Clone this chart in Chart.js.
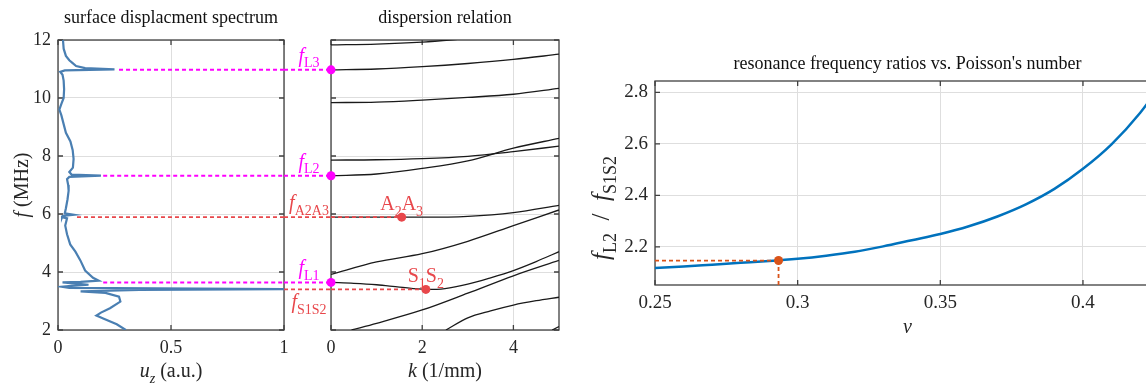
<!DOCTYPE html>
<html>
<head>
<meta charset="utf-8">
<title>spectrum, dispersion and frequency ratio</title>
<script src="https://cdn.jsdelivr.net/npm/chart.js@4.4.1/dist/chart.umd.min.js"></script>
<style>
  html, body { margin: 0; padding: 0; background: #fff; overflow: hidden; }
  body { width: 1146px; height: 383px; position: relative; }
  canvas { position: absolute; top: 0; }
</style>
</head>
<body>
<canvas id="spec" width="300" height="383" style="left:0"></canvas>
<canvas id="disp" width="290" height="383" style="left:284px"></canvas>
<canvas id="ratio" width="600" height="383" style="left:580px"></canvas>
<script>
// surface displacement spectrum (left panel)
const specF = [12.0, 11.7, 11.45, 11.3, 11.2, 11.1, 11.03, 10.99, 10.95, 10.9, 10.8, 10.6, 10.3, 10.0, 9.8, 9.6,
  9.4, 9.1, 8.8, 8.5, 8.2, 7.9, 7.6, 7.45, 7.36, 7.32, 7.28, 7.2, 7.0, 6.8, 6.5, 6.2, 6.02, 5.97, 5.93, 5.89,
  5.85, 5.6, 5.3, 4.95, 4.7, 4.4, 4.05, 3.8, 3.7, 3.66, 3.64, 3.6, 3.56, 3.52, 3.49, 3.45, 3.41, 3.38, 3.33,
  3.28, 3.15, 2.98, 2.75, 2.6, 2.5, 2.4, 2.2, 2.0];
const specU = [0.022, 0.025, 0.035, 0.05, 0.065, 0.08, 0.12, 0.25, 0.03, 0.01, 0.02, 0.025, 0.027, 0.025, 0.015, 0.006,
  0.015, 0.025, 0.035, 0.055, 0.065, 0.069, 0.066, 0.05, 0.06, 0.19, 0.05, 0.04, 0.045, 0.047, 0.042, 0.035, 0.03, 0.07, 0.02, 0.018,
  0.04, 0.032, 0.04, 0.054, 0.077, 0.099, 0.12, 0.155, 0.18, 0.1, 0.02, 0.08, 0.135, 0.06, 0.02, 0.05, 1.0, 0.36, 0.1,
  0.21, 0.27, 0.276, 0.23, 0.19, 0.17, 0.2, 0.26, 0.3];

// dispersion branches (middle panel), f in MHz against k in 1/mm
const kGrid = [0, 1, 2, 3, 4, 5];
const branchAk = [0, 1, 2, 3];
const branchAf = [11.83, 11.86, 11.93, 12.05];
const branchBf = [10.97, 11.0, 11.08, 11.19, 11.33, 11.51];
const branchCf = [9.84, 9.86, 9.93, 10.02, 10.13, 10.33];
const branchDf = [7.86, 7.87, 7.91, 7.99, 8.15, 8.34];
const branchEf = [7.32, 7.38, 7.57, 7.83, 8.27, 8.61];
const branchFf = [5.89, 5.89, 5.89, 5.92, 6.05, 6.30];
const branchGf = [3.92, 4.35, 4.63, 5.06, 5.6, 6.14];
const branchHk = [0, 0.5, 1, 1.5, 2.08, 2.5, 3, 3.5, 4, 4.5, 5];
const branchHf = [3.64, 3.61, 3.56, 3.48, 3.40, 3.43, 3.58, 3.8, 4.05, 4.36, 4.70];
const branchIk = [0.45, 1, 2, 3, 4, 5];
const branchIf = [2.0, 2.23, 2.69, 3.27, 3.87, 4.40];
const branchJk = [2.52, 3, 3.5, 4, 4.5, 5];
const branchJf = [2.0, 2.42, 2.66, 2.86, 3.01, 3.13];
const branchKk = [4.85, 5];
const branchKf = [2.0, 2.12];

// resonances picked from the spectrum
const resNames = ['L1', 'L2', 'L3'];
const resF = [3.64, 7.32, 10.97];
const resU = [0.2, 0.2, 0.27];
const crossNames = ['A2A3', 'S1S2'];
const crossF = [5.89, 3.40];
const crossK = [1.55, 2.08];
const crossU = [0.084, 1.0];

// frequency ratio against Poisson's number (right panel)
const nu = [0.25, 0.26, 0.27, 0.28, 0.29, 0.30, 0.31, 0.32, 0.33, 0.34, 0.35, 0.36, 0.37, 0.38, 0.39, 0.40, 0.41, 0.42, 0.43];
const ratio = [2.118, 2.124, 2.131, 2.138, 2.145, 2.154, 2.166, 2.181, 2.202, 2.226, 2.250, 2.280, 2.318, 2.365, 2.425, 2.503, 2.598, 2.720, 2.870];
const nuFound = 0.2933;
const ratioFound = 2.147;

// axis ranges and ticks
const fRange = [2, 12], fTicks = [2, 4, 6, 8, 10, 12];
const uRange = [0, 1], uTicks = [0, 0.5, 1];
const kRange = [0, 5], kTicks = [0, 2, 4];
const nuRange = [0.25, 0.427], nuTicks = [0.25, 0.3, 0.35, 0.4];
const ratioRange = [2.052, 2.844], ratioTicks = [2.2, 2.4, 2.6, 2.8];

const SERIF = '"Liberation Serif", "Times New Roman", serif';
const INK = '#262626';
const GRID = '#dedede';
const MAGENTA = '#ff00ff';
const RED = '#e8474b';
const ORANGE = '#d95319';
const BLUE = '#0072bd';
const STEEL = '#4a7fb2';

// text with italic / subscript runs: style 'i' italic, 'r' roman, 'si' / 'sr' subscript
function drawRich(ctx, runs, x, y, size, color, align) {
  const parts = runs.map(([t, s]) => {
    const sub = s[0] === 's';
    const fs = sub ? Math.round(size * 0.72) : size;
    return { t, font: (s.endsWith('i') ? 'italic ' : '') + fs + 'px ' + SERIF, dy: sub ? size * 0.28 : 0 };
  });
  let w = 0;
  parts.forEach(p => { ctx.font = p.font; p.w = ctx.measureText(p.t).width; w += p.w; });
  let cx = align === 'center' ? x - w / 2 : align === 'right' ? x - w : x;
  ctx.save();
  ctx.fillStyle = color;
  ctx.textAlign = 'left';
  ctx.textBaseline = 'alphabetic';
  parts.forEach(p => { ctx.font = p.font; ctx.fillText(p.t, cx, y + p.dy); cx += p.w; });
  ctx.restore();
}

function drawRotated(ctx, runs, x, y, size) {
  ctx.save();
  ctx.translate(x, y);
  ctx.rotate(-Math.PI / 2);
  drawRich(ctx, runs, 0, 0, size, INK, 'center');
  ctx.restore();
}

function drawTitle(chart, text, y, size) {
  const { ctx, chartArea: a } = chart;
  ctx.save();
  ctx.font = size + 'px ' + SERIF;
  ctx.fillStyle = '#111';
  ctx.textAlign = 'center';
  ctx.fillText(text, (a.left + a.right) / 2, y);
  ctx.restore();
}

// 'A2A3' -> A with subscript 2, A with subscript 3
function modeRuns(name) {
  return name.match(/[A-Z]\d/g).map(s => [[s[0], 'r'], [s[1], 'sr']]).flat();
}

// matlab style box with inward tick marks
const frame = {
  id: 'frame',
  beforeDatasetsDraw(chart) {
    const { ctx, chartArea: a } = chart;
    const { x, y } = chart.scales;
    ctx.save();
    ctx.strokeStyle = '#404040';
    ctx.lineWidth = 1.3;
    ctx.strokeRect(a.left, a.top, a.width, a.height);
    ctx.beginPath();
    x.ticks.forEach(t => {
      const p = x.getPixelForValue(t.value);
      ctx.moveTo(p, a.bottom); ctx.lineTo(p, a.bottom - 5);
      ctx.moveTo(p, a.top); ctx.lineTo(p, a.top + 5);
    });
    y.ticks.forEach(t => {
      const p = y.getPixelForValue(t.value);
      ctx.moveTo(a.left, p); ctx.lineTo(a.left + 5, p);
      ctx.moveTo(a.right, p); ctx.lineTo(a.right - 5, p);
    });
    ctx.stroke();
    ctx.restore();
  }
};

function axis(range, ticks, size, fit, showLabels = true) {
  return {
    type: 'linear', min: range[0], max: range[1],
    afterBuildTicks: s => { s.ticks = ticks.map(v => ({ value: v })); },
    afterFit: fit,
    grid: { color: GRID, drawTicks: false, lineWidth: 1 },
    border: { display: false },
    ticks: { display: showLabels, font: { family: SERIF, size }, color: INK, padding: 7,
      maxRotation: 0, autoSkip: false, callback: v => String(v) }
  };
}

function options(x, y, padding) {
  return {
    responsive: false, animation: false,
    layout: { padding, autoPadding: false },
    plugins: { legend: { display: false }, tooltip: { enabled: false } },
    scales: { x, y }
  };
}

function pts(xs, ys) { return xs.map((v, i) => ({ x: v, y: ys[i] })); }

function guide(data, color, width) {
  return { data, showLine: true, borderColor: color, borderWidth: width, borderDash: [4, 3],
    pointRadius: 0, tension: 0 };
}
function dot(data, color) {
  return { data, showLine: false, pointRadius: 4.5, pointBackgroundColor: color, pointBorderColor: color,
    pointBorderWidth: 0, clip: false };
}
function branch(ks, fs) {
  return { data: pts(ks, fs), showLine: true, borderColor: '#1a1a1a', borderWidth: 1.3, pointRadius: 0,
    cubicInterpolationMode: 'monotone' };
}

// ---- left: spectrum ----
new Chart(document.getElementById('spec'), {
  type: 'scatter',
  data: {
    datasets: [
      ...resF.map((f, i) => guide([{ x: resU[i], y: f }, { x: uRange[1], y: f }], MAGENTA, 2)),
      guide([{ x: crossU[0], y: crossF[0] }, { x: uRange[1], y: crossF[0] }], RED, 1.8),
      { data: pts(specU, specF), showLine: true, borderColor: STEEL, borderWidth: 2.2, pointRadius: 0, tension: 0 }
    ]
  },
  options: options(
    axis(uRange, uTicks, 18, s => { s.height = 53; }),
    axis(fRange, fTicks, 18, s => { s.width = 58; }),
    { top: 40, right: 16, left: 0, bottom: 0 }
  ),
  plugins: [frame, {
    id: 'specText',
    afterDraw(chart) {
      const { ctx, chartArea: a } = chart;
      drawTitle(chart, 'surface displacment spectrum', 23, 18);
      drawRotated(ctx, [['f', 'i'], [' (MHz)', 'r']], 28, (a.top + a.bottom) / 2, 20);
      drawRich(ctx, [['u', 'i'], ['z', 'si'], [' (a.u.)', 'r']], (a.left + a.right) / 2, 377, 20, INK, 'center');
    }
  }]
});

// ---- middle: dispersion relation ----
new Chart(document.getElementById('disp'), {
  type: 'scatter',
  data: {
    datasets: [
      dot(resF.map(f => ({ x: 0, y: f })), MAGENTA),
      dot(pts(crossK, crossF), RED),
      ...crossF.map((f, i) => guide([{ x: 0, y: f }, { x: crossK[i], y: f }], RED, 1.8)),
      branch(branchAk, branchAf),
      branch(kGrid, branchBf),
      branch(kGrid, branchCf),
      branch(kGrid, branchDf),
      branch(kGrid, branchEf),
      branch(kGrid, branchFf),
      branch(kGrid, branchGf),
      branch(branchHk, branchHf),
      branch(branchIk, branchIf),
      branch(branchJk, branchJf),
      branch(branchKk, branchKf)
    ]
  },
  options: options(
    axis(kRange, kTicks, 18, s => { s.height = 53; }),
    axis(fRange, fTicks, 18, s => { s.width = 47; }, false),
    { top: 40, right: 15, left: 0, bottom: 0 }
  ),
  plugins: [frame, {
    id: 'dispText',
    beforeDatasetsDraw(chart) {
      // guides continue across the gap from the spectrum panel
      const { ctx, chartArea: a, scales: { y } } = chart;
      ctx.save();
      ctx.setLineDash([4, 3]);
      [[resF, MAGENTA, 2], [crossF, RED, 1.8]].forEach(([fs, color, w]) => {
        ctx.strokeStyle = color;
        ctx.lineWidth = w;
        fs.forEach(f => {
          const py = y.getPixelForValue(f);
          ctx.beginPath(); ctx.moveTo(0, py); ctx.lineTo(a.left, py); ctx.stroke();
        });
      });
      ctx.restore();
    },
    afterDraw(chart) {
      const { ctx, chartArea: a, scales: { x, y } } = chart;
      drawTitle(chart, 'dispersion relation', 23, 18);
      drawRich(ctx, [['k', 'i'], [' (1/mm)', 'r']], (a.left + a.right) / 2, 377, 20, INK, 'center');
      const cx = a.left - 22;
      resF.forEach((f, i) => {
        drawRich(ctx, [['f', 'i'], [resNames[i], 'sr']], cx, y.getPixelForValue(f) - 8, 20, MAGENTA, 'center');
      });
      crossF.forEach((f, i) => {
        const py = y.getPixelForValue(f);
        const below = i === 1;
        drawRich(ctx, [['f', 'i'], [crossNames[i], 'sr']], cx, below ? py + 19 : py - 8, 20, RED, 'center');
        drawRich(ctx, modeRuns(crossNames[i]), x.getPixelForValue(crossK[i]), py - 7, 20, RED, 'center');
      });
    }
  }]
});

// ---- right: resonance frequency ratio ----
new Chart(document.getElementById('ratio'), {
  type: 'scatter',
  data: {
    datasets: [
      dot([{ x: nuFound, y: ratioFound }], ORANGE),
      guide([{ x: nuRange[0], y: ratioFound }, { x: nuFound, y: ratioFound }], ORANGE, 1.8),
      guide([{ x: nuFound, y: ratioRange[0] }, { x: nuFound, y: ratioFound }], ORANGE, 1.8),
      { data: pts(nu, ratio), showLine: true, borderColor: BLUE, borderWidth: 2.5, pointRadius: 0,
        cubicInterpolationMode: 'monotone' }
    ]
  },
  options: options(
    axis(nuRange, nuTicks, 19, s => { s.height = 98; }),
    axis(ratioRange, ratioTicks, 19, s => { s.width = 75; }),
    { top: 81, right: 20, left: 0, bottom: 0 }
  ),
  plugins: [frame, {
    id: 'ratioText',
    afterDraw(chart) {
      const { ctx, chartArea: a } = chart;
      drawTitle(chart, "resonance frequency ratios vs. Poisson's number", 69, 18);
      drawRotated(ctx, [['f', 'i'], ['L2', 'sr'], ['  /  ', 'r'], ['f', 'i'], ['S1S2', 'sr']],
        29, (a.top + a.bottom) / 2 + 25, 25);
      drawRich(ctx, [['\u03bd', 'i']], (a.left + a.right) / 2, 333, 20, INK, 'center');
    }
  }]
});
</script>
</body>
</html>
